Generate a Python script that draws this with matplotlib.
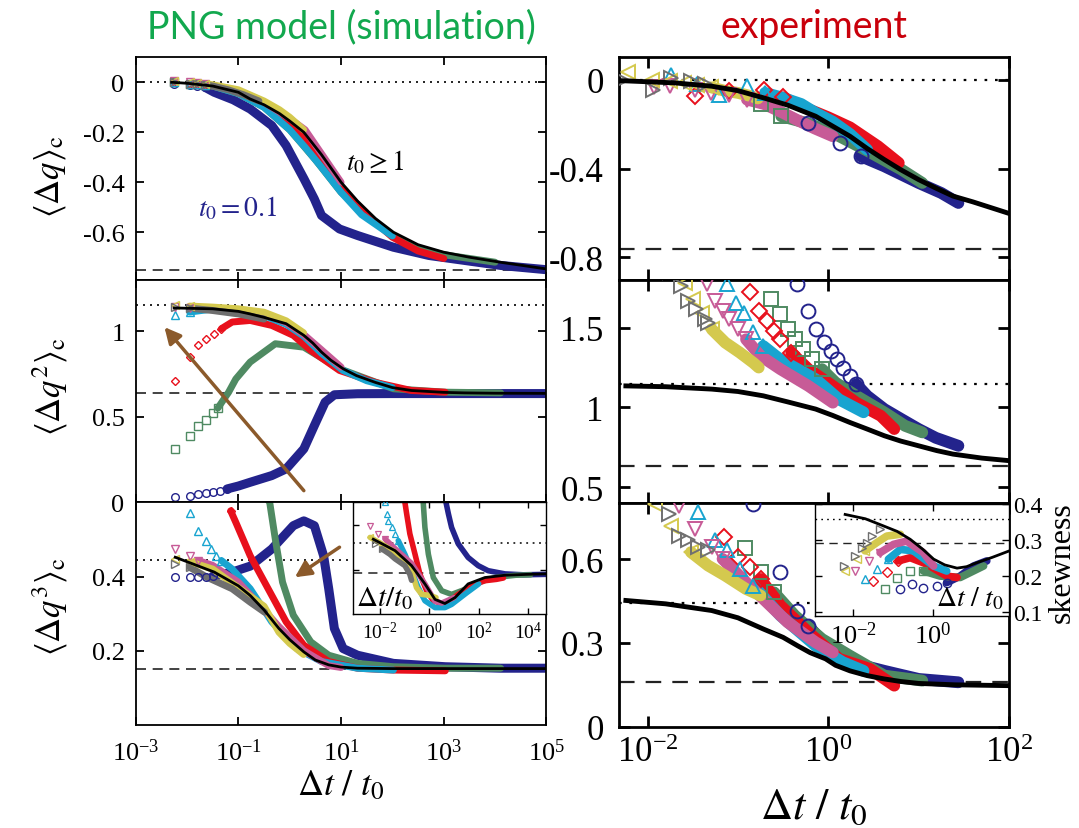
import numpy as np
import matplotlib
matplotlib.use('Agg')
import matplotlib.pyplot as plt
from matplotlib import font_manager
from matplotlib.ticker import FixedLocator, NullLocator, FuncFormatter

# Times-like serif for all plain text
try:
    font_manager.findfont('Liberation Serif', fallback_to_default=False)
    SERIF = 'Liberation Serif'
except Exception:
    SERIF = 'DejaVu Serif'
plt.rcParams['font.family'] = 'serif'
plt.rcParams['font.serif'] = [SERIF, 'DejaVu Serif']
plt.rcParams['mathtext.fontset'] = 'stix'
plt.rcParams['axes.unicode_minus'] = False

# ------------------------------------------------------------------
# data: (log10(dt/t0), value)
# ------------------------------------------------------------------
# PNG simulation, <dq>_c
s1_black = [(-2.3, 0.0), (-2.0, -0.004), (-1.5, -0.015), (-1.0, -0.04), (-0.77, -0.067), (-0.5, -0.09),
            (-0.2, -0.125), (0.0, -0.155), (0.275, -0.2), (0.62, -0.29), (1.0, -0.40), (1.32, -0.475),
            (1.67, -0.545), (2.02, -0.60), (2.5, -0.65), (3.0, -0.68), (3.5, -0.70), (4.1, -0.72),
            (4.6, -0.735), (5.0, -0.747)]
s1_navy = [(-2.25, -0.005), (-1.95, -0.01), (-1.8, -0.015), (-1.65, -0.02), (-1.47, -0.04), (-1.1, -0.07),
           (-0.77, -0.107), (-0.35, -0.173), (-0.07, -0.253), (0.28, -0.387), (0.48, -0.467), (0.62, -0.533),
           (0.97, -0.587), (1.32, -0.613), (2.02, -0.66), (2.71, -0.693), (3.41, -0.713), (4.11, -0.733),
           (5.0, -0.75)]
s1_green = [(-2.25, 0.0), (-1.95, -0.005), (-1.8, -0.008), (-1.65, -0.01), (-1.5, -0.015), (-1.0, -0.045),
            (-0.5, -0.1), (0.0, -0.19), (0.5, -0.31), (1.0, -0.44), (1.5, -0.53), (2.0, -0.615),
            (2.5, -0.665), (3.0, -0.69), (3.5, -0.705), (4.0, -0.72)]
s1_red = [(-2.25, 0.0), (-1.95, -0.005), (-1.8, -0.008), (-1.65, -0.01), (-1.5, -0.015), (-1.0, -0.04),
          (-0.5, -0.09), (0.0, -0.16), (0.5, -0.27), (1.0, -0.42), (1.5, -0.53), (2.0, -0.62),
          (2.5, -0.675), (3.0, -0.705)]
s1_cyan = [(-2.25, 0.0), (-1.95, -0.005), (-1.8, -0.008), (-1.65, -0.01), (-1.5, -0.015), (-1.0, -0.045),
           (-0.5, -0.1), (0.0, -0.19), (0.3, -0.26), (0.6, -0.335), (1.0, -0.44), (1.4, -0.53), (2.0, -0.615)]
s1_pink = [(-2.25, 0.005), (-1.95, 0.0), (-1.8, -0.004), (-1.65, -0.008), (-1.5, -0.012), (-1.0, -0.035),
           (-0.5, -0.08), (0.0, -0.145), (0.3, -0.19), (0.6, -0.28), (1.0, -0.40)]
s1_yellow = [(-2.25, 0.005), (-1.95, 0.0), (-1.8, -0.003), (-1.65, -0.006), (-1.5, -0.01), (-1.0, -0.03),
             (-0.5, -0.075), (-0.2, -0.11), (0.0, -0.14), (0.27, -0.19)]
s1_gray = [(-2.25, 0.0), (-1.95, -0.005), (-1.8, -0.008), (-1.65, -0.01), (-1.5, -0.015), (-1.2, -0.03),
           (-0.9, -0.05), (-0.6, -0.075)]
s1_sparse = dict(navy=4, green=4, red=4, cyan=4, pink=4, yellow=4, gray=4)

# PNG simulation, <dq^2>_c
s2_black = [(-2.25, 1.135), (-1.5, 1.13), (-1.0, 1.115), (-0.77, 1.10), (-0.5, 1.08), (-0.07, 1.043),
            (0.275, 0.975), (0.45, 0.93), (0.62, 0.877), (0.8, 0.83), (1.04, 0.78), (1.3, 0.74),
            (1.67, 0.70), (2.0, 0.67), (2.37, 0.653), (3.0, 0.642), (3.41, 0.639), (4.0, 0.637), (5.0, 0.636)]
s2_navy = [(-2.23, 0.033), (-1.95, 0.039), (-1.78, 0.047), (-1.64, 0.055), (-1.5, 0.062), (-1.36, 0.068),
           (-1.22, 0.078), (-1.0, 0.095), (-0.77, 0.117), (-0.35, 0.156), (-0.07, 0.195), (0.275, 0.312),
           (0.48, 0.448), (0.69, 0.585), (0.87, 0.628), (1.32, 0.634), (2.0, 0.635), (3.0, 0.635),
           (4.0, 0.635), (5.0, 0.635)]
s2_green = [(-2.23, 0.312), (-1.95, 0.39), (-1.78, 0.448), (-1.64, 0.478), (-1.5, 0.52), (-1.4, 0.55),
            (-1.19, 0.643), (-1.05, 0.72), (-0.77, 0.819), (-0.28, 0.926), (0.275, 0.906), (0.97, 0.78),
            (2.02, 0.663), (3.03, 0.643), (4.11, 0.639)]
s2_red = [(-2.23, 0.711), (-1.95, 0.848), (-1.78, 0.916), (-1.64, 0.955), (-1.47, 0.984), (-1.33, 1.014),
          (-1.12, 1.053), (-0.77, 1.062), (-0.35, 1.033), (0.07, 0.975), (0.41, 0.887), (0.97, 0.77),
          (1.67, 0.70), (2.37, 0.653), (3.03, 0.643)]
s2_cyan = [(-2.23, 1.092), (-1.95, 1.111), (-1.47, 1.13), (-1.0, 1.115), (-0.5, 1.09), (-0.07, 1.04),
           (0.275, 0.97), (0.62, 0.87), (1.04, 0.77), (1.5, 0.71), (2.0, 0.67)]
s2_pink = [(-2.23, 1.14), (-1.95, 1.134), (-1.5, 1.135), (-1.0, 1.12), (-0.5, 1.10), (-0.07, 1.05),
           (0.275, 0.98), (0.62, 0.89), (1.0, 0.79)]
s2_yellow = [(-2.23, 1.154), (-1.95, 1.146), (-1.5, 1.14), (-1.0, 1.13), (-0.5, 1.11), (-0.07, 1.06),
             (0.27, 0.99)]
s2_gray = [(-2.23, 1.14), (-1.95, 1.134), (-1.5, 1.12), (-1.0, 1.10), (-0.5, 1.07)]
s2_sparse = dict(navy=7, green=6, red=6, cyan=2, pink=2, yellow=2, gray=2)

# PNG simulation, <dq^3>_c
s3_black = [(-2.23, 0.452), (-1.47, 0.412), (-1.0, 0.375), (-0.77, 0.349), (-0.5, 0.31), (-0.21, 0.26),
            (0.0, 0.23), (0.275, 0.197), (0.5, 0.175), (0.76, 0.162), (1.0, 0.156), (1.32, 0.153),
            (2.0, 0.152), (3.0, 0.152), (4.0, 0.152), (5.0, 0.152)]
s3_navy = [(-2.23, 0.398), (-1.95, 0.398), (-1.78, 0.398), (-1.64, 0.40), (-1.5, 0.401), (-1.12, 0.412),
           (-0.77, 0.428), (-0.35, 0.474), (0.07, 0.537), (0.275, 0.55), (0.48, 0.537), (0.66, 0.456),
           (0.76, 0.367), (0.87, 0.26), (1.04, 0.206), (1.32, 0.188), (2.02, 0.166), (3.03, 0.157),
           (4.11, 0.153), (5.0, 0.153)]
s3_green = [(-0.6, 0.75), (-0.49, 0.617), (-0.39, 0.6), (-0.28, 0.50), (-0.14, 0.385), (0.07, 0.296),
            (0.41, 0.224), (0.76, 0.188), (1.32, 0.166), (2.02, 0.157), (3.03, 0.153), (4.11, 0.153)]
s3_red = [(-1.25, 0.62), (-1.15, 0.577), (-1.05, 0.546), (-0.77, 0.456), (-0.42, 0.367), (-0.07, 0.278),
          (0.275, 0.215), (0.76, 0.171), (1.32, 0.153), (2.02, 0.148), (3.03, 0.146)]
s3_cyan = [(-1.95, 0.572), (-1.78, 0.523), (-1.64, 0.496), (-1.54, 0.474), (-1.43, 0.456), (-1.33, 0.443),
           (-1.12, 0.42), (-0.77, 0.367), (-0.35, 0.278), (0.14, 0.206), (0.62, 0.171), (1.32, 0.153),
           (2.02, 0.148)]
s3_pink = [(-2.23, 0.474), (-1.95, 0.456), (-1.78, 0.443), (-1.5, 0.43), (-1.0, 0.385), (-0.5, 0.31),
           (-0.21, 0.265), (0.275, 0.2), (0.76, 0.16), (1.0, 0.155)]
s3_yellow = [(-2.23, 0.447), (-1.95, 0.44), (-1.5, 0.42), (-1.0, 0.37), (-0.5, 0.32), (-0.21, 0.25),
             (0.0, 0.22), (0.27, 0.19)]
s3_gray = [(-2.23, 0.434), (-1.95, 0.425), (-1.61, 0.398), (-1.12, 0.367), (-0.77, 0.331), (-0.49, 0.304)]
s3_sparse = dict(navy=5, green=0, red=2, cyan=6, pink=3, yellow=2, gray=2)

# PNG simulation, skewness (inset)
sk_black = [(-2.27, 0.368), (-1.39, 0.343), (-0.72, 0.31), (-0.18, 0.27), (0.23, 0.236), (0.63, 0.227),
            (1.04, 0.24), (1.57, 0.27), (2.25, 0.284), (3.06, 0.289), (4.0, 0.291), (4.74, 0.292)]
sk_navy = [(0.55, 0.5), (0.63, 0.46), (0.77, 0.424), (0.9, 0.394), (1.17, 0.358), (1.57, 0.328),
           (1.98, 0.31), (2.38, 0.299), (3.06, 0.292), (3.8, 0.29), (4.74, 0.291)]
sk_green = [(-0.3, 0.5), (-0.25, 0.45), (-0.18, 0.394), (-0.04, 0.335), (0.16, 0.284), (0.5, 0.255),
            (0.9, 0.247), (1.44, 0.258), (1.98, 0.273), (2.66, 0.284), (3.5, 0.289), (4.1, 0.29)]
sk_red = [(-1.05, 0.5), (-0.99, 0.449), (-0.92, 0.424), (-0.79, 0.38), (-0.58, 0.335), (-0.38, 0.291),
          (-0.11, 0.255), (0.16, 0.233), (0.63, 0.225), (1.17, 0.247), (1.71, 0.266), (2.25, 0.277),
          (2.72, 0.28), (3.0, 0.283)]
sk_cyan = [(-1.8, 0.449), (-1.73, 0.424), (-1.66, 0.409), (-1.53, 0.394), (-1.39, 0.38), (-1.26, 0.365),
           (-0.99, 0.335), (-0.72, 0.299), (-0.45, 0.262), (-0.18, 0.233), (0.23, 0.218), (0.63, 0.218),
           (0.9, 0.225), (1.5, 0.25), (2.0, 0.27)]
sk_pink = [(-2.4, 0.396), (-2.07, 0.38), (-1.8, 0.369), (-1.4, 0.348), (-0.72, 0.315), (-0.18, 0.27),
           (0.23, 0.232), (0.5, 0.228), (1.0, 0.24)]
sk_yellow = [(-2.4, 0.372), (-2.0, 0.36), (-1.4, 0.34), (-0.72, 0.299), (-0.52, 0.262), (-0.31, 0.247),
             (0.0, 0.245), (0.27, 0.24)]
sk_gray = [(-2.2, 0.358), (-1.93, 0.347), (-1.6, 0.335), (-1.39, 0.325), (-0.99, 0.31), (-0.79, 0.291),
           (-0.72, 0.278)]
sk_sparse = dict(navy=0, green=0, red=0, cyan=6, pink=3, yellow=1, gray=2)

# experiment, <dq>_c
e1_black = [(-2.3, -0.005), (-2.0, -0.01), (-1.7, -0.015), (-1.29, -0.03), (-1.0, -0.05), (-0.72, -0.082),
            (-0.45, -0.115), (-0.14, -0.165), (0.05, -0.21), (0.24, -0.255), (0.43, -0.31), (0.62, -0.36),
            (0.8, -0.405), (1.0, -0.45), (1.2, -0.49), (1.38, -0.524), (1.6, -0.55), (2.0, -0.602)]
e1_navy = [(-0.22, -0.195), (0.13, -0.285), (0.36, -0.345), (0.62, -0.39), (1.0, -0.465), (1.25, -0.51),
           (1.44, -0.555)]
e1_green = [(-0.75, -0.11), (-0.52, -0.165), (-0.2, -0.2), (0.05, -0.24), (0.43, -0.32), (0.81, -0.405),
            (1.04, -0.465)]
e1_red = [(-1.47, -0.075), (-1.1, -0.05), (-0.71, -0.045), (-0.5, -0.08), (-0.3, -0.12), (0.0, -0.17),
          (0.24, -0.215), (0.55, -0.3), (0.78, -0.375)]
e1_cyan = [(-1.74, 0.02), (-1.45, -0.02), (-1.21, -0.07), (-0.9, -0.03), (-0.7, -0.06), (-0.52, -0.08),
           (-0.3, -0.11), (-0.14, -0.15), (0.05, -0.19), (0.24, -0.245), (0.43, -0.315)]
e1_pink = [(-1.93, -0.035), (-1.75, -0.03), (-1.47, -0.045), (-1.3, -0.06), (-1.1, -0.07), (-0.9, -0.09),
           (-0.71, -0.11), (-0.5, -0.15), (-0.33, -0.185), (-0.15, -0.22), (0.05, -0.255)]
e1_yellow = [(-2.22, 0.035), (-1.95, 0.0), (-1.75, -0.005), (-1.6, -0.015), (-1.45, -0.025), (-1.3, -0.035),
             (-1.15, -0.05), (-1.0, -0.06), (-0.85, -0.075), (-0.78, -0.085)]
e1_gray = [(-2.28, 0.0), (-1.94, -0.045), (-1.74, 0.0075), (-1.52, -0.0075), (-1.36, -0.022)]
e1_sparse = dict(navy=3, green=2, red=4, cyan=5, pink=6, yellow=6, gray=5)

# experiment, <dq^2>_c
e2_black = [(-2.24, 1.135), (-1.8, 1.13), (-1.29, 1.115), (-1.0, 1.10), (-0.72, 1.073), (-0.45, 1.035),
            (-0.14, 0.99), (0.05, 0.95), (0.24, 0.906), (0.43, 0.865), (0.62, 0.823), (0.8, 0.79),
            (1.0, 0.76), (1.2, 0.73), (1.38, 0.708), (1.7, 0.683), (2.0, 0.667)]
e2_navy = [(-0.35, 1.77), (-0.22, 1.604), (-0.14, 1.49), (-0.05, 1.41), (0.03, 1.354), (0.1, 1.302),
           (0.16, 1.25), (0.24, 1.198), (0.31, 1.146), (0.43, 1.073), (0.62, 0.99), (0.81, 0.927),
           (1.0, 0.865), (1.19, 0.81), (1.44, 0.76)]
e2_green = [(-0.63, 1.68), (-0.53, 1.583), (-0.45, 1.49), (-0.37, 1.427), (-0.28, 1.365), (-0.18, 1.302),
            (-0.07, 1.24), (0.08, 1.156), (0.31, 1.073), (0.62, 0.969), (0.85, 0.885), (1.04, 0.844)]
e2_red = [(-0.87, 1.72), (-0.77, 1.604), (-0.68, 1.54), (-0.6, 1.48), (-0.53, 1.427), (-0.41, 1.344),
          (-0.22, 1.24), (0.05, 1.135), (0.31, 1.03), (0.58, 0.948), (0.73, 0.865)]
e2_cyan = [(-1.12, 1.77), (-1.02, 1.656), (-0.93, 1.594), (-0.83, 1.47), (-0.72, 1.385), (-0.53, 1.3),
           (-0.14, 1.177), (0.12, 1.05), (0.39, 0.97)]
e2_pink = [(-1.34, 1.77), (-1.25, 1.667), (-1.17, 1.604), (-1.1, 1.552), (-1.0, 1.49), (-0.91, 1.427),
           (-0.75, 1.323), (-0.53, 1.24), (-0.22, 1.135), (0.05, 1.03)]
e2_yellow = [(-1.59, 1.78), (-1.5, 1.677), (-1.4, 1.594), (-1.29, 1.49), (-1.14, 1.406), (-0.98, 1.344),
             (-0.83, 1.28), (-0.77, 1.25)]
e2_gray = [(-1.75, 1.85), (-1.63, 1.76), (-1.55, 1.667), (-1.46, 1.615), (-1.36, 1.552), (-1.33, 1.53)]
e2_sparse = dict(navy=9, green=7, red=6, cyan=5, pink=6, yellow=4, gray=6)

# experiment, <dq^3>_c
e3_black = [(-2.24, 0.452), (-1.8, 0.44), (-1.29, 0.416), (-1.0, 0.39), (-0.72, 0.35), (-0.5, 0.32),
            (-0.34, 0.29), (-0.2, 0.265), (-0.03, 0.243), (0.08, 0.22), (0.24, 0.2), (0.43, 0.183),
            (0.62, 0.171), (0.8, 0.162), (1.0, 0.155), (1.4, 0.15), (2.0, 0.147)]
e3_navy = [(-0.83, 0.798), (-0.53, 0.553), (-0.35, 0.416), (-0.22, 0.362), (-0.03, 0.29), (0.24, 0.231),
           (0.62, 0.2), (1.0, 0.171), (1.44, 0.159)]
e3_green = [(-0.92, 0.639), (-0.75, 0.553), (-0.6, 0.481), (-0.37, 0.398), (-0.07, 0.314), (0.24, 0.254),
            (0.62, 0.183), (1.04, 0.165)]
e3_red = [(-1.15, 0.679), (-1.0, 0.607), (-0.87, 0.571), (-0.75, 0.529), (-0.53, 0.434), (-0.22, 0.338),
          (0.12, 0.243), (0.46, 0.207), (0.73, 0.147)]
e3_cyan = [(-1.44, 0.768), (-1.25, 0.667), (-1.12, 0.631), (-0.98, 0.565), (-0.83, 0.505), (-0.53, 0.398),
           (-0.14, 0.29), (0.16, 0.231), (0.39, 0.2)]
e3_pink = [(-1.65, 0.792), (-1.48, 0.708), (-1.29, 0.643), (-1.17, 0.601), (-0.91, 0.517), (-0.72, 0.458),
           (-0.45, 0.374), (-0.14, 0.302), (0.05, 0.266)]
e3_yellow = [(-1.92, 0.798), (-1.74, 0.72), (-1.52, 0.625), (-1.33, 0.577), (-1.14, 0.541), (-0.91, 0.493),
             (-0.75, 0.47)]
e3_gray = [(-1.76, 0.762), (-1.65, 0.684), (-1.55, 0.667), (-1.44, 0.643), (-1.33, 0.631)]
e3_sparse = dict(navy=4, green=3, red=4, cyan=5, pink=4, yellow=3, gray=5)

# experiment, skewness (inset)
ek_black = [(-2.21, 0.372), (-1.7, 0.36), (-1.24, 0.34), (-0.9, 0.325), (-0.57, 0.303), (-0.25, 0.275),
            (0.02, 0.248), (0.3, 0.232), (0.61, 0.223), (0.85, 0.227), (1.11, 0.238), (1.5, 0.253),
            (1.93, 0.271)]
ek_navy = [(-0.84, 0.165), (-0.53, 0.178), (-0.24, 0.169), (0.1, 0.174), (0.35, 0.183), (0.69, 0.201),
           (1.03, 0.229), (1.36, 0.243)]
ek_green = [(-1.2, 0.165), (-0.91, 0.197), (-0.57, 0.215), (-0.24, 0.215), (0.18, 0.201), (0.69, 0.197),
            (1.28, 0.229)]
ek_red = [(-1.5, 0.188), (-1.16, 0.211), (-0.87, 0.243), (-0.57, 0.252), (-0.15, 0.234), (0.35, 0.201),
          (0.61, 0.197)]
ek_cyan = [(-1.71, 0.192), (-1.41, 0.22), (-1.12, 0.248), (-0.82, 0.275), (-0.49, 0.271), (0.02, 0.229),
           (0.35, 0.215)]
ek_pink = [(-1.96, 0.215), (-1.62, 0.243), (-1.33, 0.266), (-0.99, 0.289), (-0.66, 0.298), (-0.24, 0.266),
           (0.02, 0.229)]
ek_yellow = [(-2.21, 0.215), (-1.92, 0.248), (-1.71, 0.271), (-1.41, 0.294), (-1.16, 0.312), (-0.82, 0.317)]
ek_gray = [(-2.25, 0.229), (-1.96, 0.257), (-1.79, 0.28), (-1.66, 0.294), (-1.54, 0.312), (-1.33, 0.331)]
ek_sparse = dict(navy=5, green=4, red=3, cyan=3, pink=3, yellow=3, gray=6)

# reference levels (dotted: Baik-Rains, dashed: GOE)
sim_dotted = [0.0, 1.15, 0.445]
sim_dashed = [-0.75, 0.637, 0.152]
exp_dotted = [0.0, 1.15, 0.443]
exp_dashed = [-0.764, 0.635, 0.159]
skew_dotted = [0.359, 0.358]
skew_dashed = [0.293, 0.294]

# brown arrows: (tail, head) in (log10 x, y)
arrow_q2 = [(0.275, 0.068), (-2.44, 1.023)]
arrow_q3 = [(0.97, 0.479), (0.1, 0.398)]

# ------------------------------------------------------------------
COLORS = dict(navy='#23238c', green='#4f8a62', red='#e8101c', cyan='#18a4d0',
              pink='#c75b97', yellow='#d4c94e', gray='#6f6f6f')
MARKERS = dict(navy='o', green='s', red='D', cyan='^', pink='v', yellow='<', gray='>')
ORDER = ['navy', 'green', 'red', 'cyan', 'pink', 'yellow', 'gray']
BROWN = '#8b5a2b'


def table(prefix):
    g = globals()
    return {n: g[prefix + '_' + n] for n in ORDER}


def draw_series(ax, tab, sparse, ms, lw, mew, wide=None):
    for name in ORDER:
        pts = np.array(tab[name], dtype=float)
        x = 10.0 ** pts[:, 0]
        y = pts[:, 1]
        k = sparse.get(name, 0)
        w = lw * (wide.get(name, 1.0) if wide else 1.0)
        if k < len(pts):
            s = max(k - 1, 0)
            ax.plot(x[s:], y[s:], color=COLORS[name], lw=w, solid_capstyle='round',
                    solid_joinstyle='round', zorder=2)
        if k > 0:
            m = ms * (0.8 if MARKERS[name] == 'D' else 1.0)
            ax.plot(x[:k], y[:k], ls='none', marker=MARKERS[name], ms=m, mfc='none',
                    mec=COLORS[name], mew=mew, zorder=3)


def black(ax, pts, lw):
    pts = np.array(pts)
    ax.plot(10.0 ** pts[:, 0], pts[:, 1], color='k', lw=lw, zorder=5,
            solid_joinstyle='round')


def levels(ax, dotted, dashed, lw, dots=(1.2, 3.0), dashes=(6, 4)):
    ax.axhline(dotted, color='k', lw=lw, ls=(0, dots), zorder=1)
    ax.axhline(dashed, color='#222222', lw=lw, ls=(0, dashes), zorder=1)


def setup(ax, xlim, ylim, xticks, yticks, fs, tl, sw, labelx, pad_y, pad_x):
    ax.set_xscale('log')
    ax.set_xlim(*xlim)
    ax.set_ylim(*ylim)
    ax.xaxis.set_major_locator(FixedLocator(xticks))
    ax.xaxis.set_minor_locator(NullLocator())
    ax.yaxis.set_major_locator(FixedLocator(yticks))
    ax.yaxis.set_minor_locator(NullLocator())
    ax.yaxis.set_major_formatter(FuncFormatter(lambda v, p: '{:g}'.format(round(v, 3))))
    ax.tick_params(which='both', direction='in', top=True, right=True, length=tl, width=sw,
                   labelsize=fs)
    ax.tick_params(axis='y', pad=pad_y)
    ax.tick_params(axis='x', pad=pad_x, labelbottom=labelx)
    for s in ax.spines.values():
        s.set_linewidth(sw)


W, H = 1079.0, 829.0


def box(x0, x1, y0, y1):
    return [x0 / W, 1 - y1 / H, (x1 - x0) / W, (y1 - y0) / H]


fig = plt.figure(figsize=(10.79, 8.29), dpi=100)

# ---------------- simulation panels ----------------
LX0, LX1 = 135.7, 546.4
lrows = [(58.3, 280.7), (280.7, 503.3), (503.3, 726.0)]
sim_ylims = [(-0.79, 0.1), (0.0, 1.3), (0.0, 0.6)]
sim_yticks = [[-0.8, -0.6, -0.4, -0.2, 0.0], [0.0, 0.5, 1.0], [0.2, 0.4]]
sim_black = [s1_black, s2_black, s3_black]
sim_tabs = [table('s1'), table('s2'), table('s3')]
sim_sparse = [s1_sparse, s2_sparse, s3_sparse]
sim_xticks = [1e-3, 1e-1, 1e1, 1e3, 1e5]
sim_ylabels = [r'$\langle \Delta q \rangle_{\mathrm{c}}$',
               r'$\langle \Delta q^2 \rangle_{\mathrm{c}}$',
               r'$\langle \Delta q^3 \rangle_{\mathrm{c}}$']
sim_ylab_y = [177, 387, 607]
navy_wide = dict(navy=1.3)

sim_axes = []
for i in range(3):
    ax = fig.add_axes(box(LX0, LX1, *lrows[i]))
    setup(ax, (1e-3, 1e5), sim_ylims[i], sim_xticks, sim_yticks[i], 19, 6, 1.3, i == 2, 8, 10)
    levels(ax, sim_dotted[i], sim_dashed[i], 1.2)
    draw_series(ax, sim_tabs[i], sim_sparse[i], 5.5, 5.0, 1.0, navy_wide)
    black(ax, sim_black[i], 2.0)
    fig.text(50 / W, 1 - sim_ylab_y[i] / H, sim_ylabels[i], rotation=90, ha='center', va='center',
             fontsize=25)
    sim_axes.append(ax)

ax = sim_axes[0]
ax.text(10 ** 1.1, -0.316, r'$t_0 \geq 1$', fontsize=20, ha='left', va='center', zorder=6)
ax.text(10 ** -1.78, -0.5, r'$t_0 = 0.1$', fontsize=20, ha='left', va='center', color=COLORS['navy'],
        zorder=6)

for axx, arr in [(sim_axes[1], arrow_q2), (sim_axes[2], arrow_q3)]:
    (tx, ty), (hx, hy) = arr
    axx.annotate('', xy=(10 ** hx, hy), xytext=(10 ** tx, ty), zorder=6,
                 arrowprops=dict(arrowstyle='-|>', color=BROWN, lw=2.5, mutation_scale=24,
                                 shrinkA=0, shrinkB=0))

fig.text(341 / W, 1 - 787 / H, r'$\Delta t\ /\ t_0$', ha='center', va='center', fontsize=26)

# simulation inset (skewness)
ins = fig.add_axes(box(353.3, LX1, 503.3, 615.0))
setup(ins, (10 ** -3.08, 10 ** 4.74), (0.204, 0.449), [1e-2, 1e0, 1e2, 1e4], [0.3, 0.4], 14, 4, 1.0,
      True, 3, 5)
ins.tick_params(axis='y', labelleft=False)
levels(ins, skew_dotted[0], skew_dashed[0], 1.1)
draw_series(ins, table('sk'), sk_sparse, 4.5, 4.0, 0.9)
black(ins, sk_black, 2.0)
ins.text(0.015, 0.03, r'$\Delta t / t_0$', transform=ins.transAxes, fontsize=21, ha='left', va='bottom',
         zorder=7)

# ---------------- experiment panels ----------------
RX0, RX1 = 619.0, 1009.0
rrows = [(58.3, 280.7), (280.7, 504.3), (504.3, 727.7)]
exp_ylims = [(-0.9, 0.1), (0.4, 1.8), (0.0, 0.8)]
exp_yticks = [[-0.8, -0.4, 0.0], [0.5, 1.0, 1.5], [0.0, 0.3, 0.6]]
exp_black = [e1_black, e2_black, e3_black]
exp_tabs = [table('e1'), table('e2'), table('e3')]
exp_sparse = [e1_sparse, e2_sparse, e3_sparse]
exp_xlim = (10 ** -2.316, 1e2)

exp_axes = []
for i in range(3):
    ax = fig.add_axes(box(RX0, RX1, *rrows[i]))
    setup(ax, exp_xlim, exp_ylims[i], [1e-2, 1e0, 1e2], exp_yticks[i], 25, 8, 2.0, i == 2, 11, 7)
    levels(ax, exp_dotted[i], exp_dashed[i], 1.6, dots=(1.2, 3.5), dashes=(7, 5))
    draw_series(ax, exp_tabs[i], exp_sparse[i], 10, 8.5, 1.4)
    black(ax, exp_black[i], 3.5)
    exp_axes.append(ax)

fig.text(814 / W, 1 - 808 / H, r'$\Delta t\ /\ t_0$', ha='center', va='center', fontsize=32)

# experiment inset (skewness)
ine = fig.add_axes(box(815.0, RX1, 505.0, 616.7))
setup(ine, (10 ** -2.97, 10 ** 1.92), (0.091, 0.401), [1e-2, 1e0], [0.1, 0.2, 0.3, 0.4], 17, 5, 1.0,
      True, 3, 4)
ine.tick_params(axis='x', labelsize=19)
ine.tick_params(axis='y', labelleft=False, labelright=True)
levels(ine, skew_dotted[1], skew_dashed[1], 1.0)
draw_series(ine, table('ek'), ek_sparse, 6, 5.5, 1.0)
black(ine, ek_black, 2.0)
ine.text(0.975, 0.04, r'$\Delta t\ /\ t_0$', transform=ine.transAxes, fontsize=20, ha='right',
         va='bottom', zorder=7)
fig.text(1077 / W, 1 - 563 / H, 'skewness', rotation=90, ha='right', va='center', fontsize=23)

# titles
fig.text(341 / W, 1 - 27 / H, 'PNG model (simulation)', ha='center', va='center', fontsize=27,
         family='Lato', color='#12a84e')
fig.text(814 / W, 1 - 27 / H, 'experiment', ha='center', va='center', fontsize=27,
         family='Lato', color='#c9000b')

fig.savefig('out.png', dpi=100)
